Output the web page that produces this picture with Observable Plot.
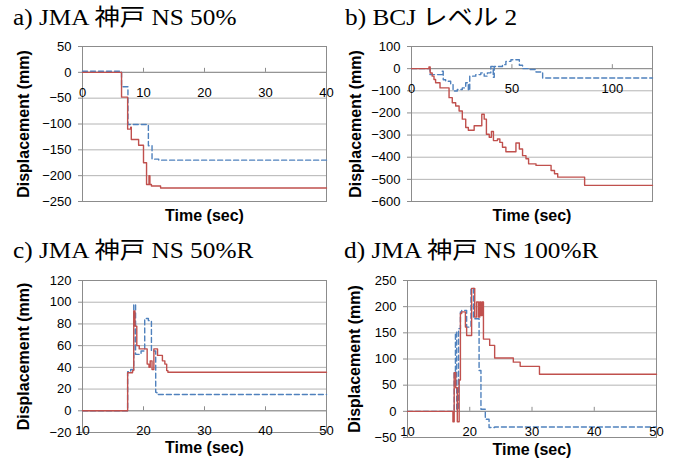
<!DOCTYPE html>
<html><head><meta charset="utf-8">
<script src="https://cdn.jsdelivr.net/npm/d3@7"></script>
<script src="https://cdn.jsdelivr.net/npm/@observablehq/plot@0.6"></script>
<style>
body{margin:0;background:#fff;}
#wrap{position:relative;width:677px;height:459px;overflow:hidden;background:#fff;}
.title{position:absolute;font-family:"Liberation Serif","Times New Roman","Noto Sans CJK JP",serif;font-size:23px;line-height:24px;white-space:nowrap;color:#000;transform:scaleX(1.1);transform-origin:0 50%;}
.panel{position:absolute;}
</style></head><body><div id="wrap"></div>
<script>
const titles = ["a) JMA 神戸 NS 50%", "b) BCJ レベル 2", "c) JMA 神戸 NS 50%R", "d) JMA 神戸 NS 100%R"];
const xLabel = "Time (sec)";
const yLabel = "Displacement (mm)";

// Panel a
const aXTicks = [0, 10, 20, 30, 40];
const aYTicks = [50, 0, -50, -100, -150, -200, -250];
const aRedT = [0, 6.4, 7.4, 7.9, 8.0, 9.2, 10.0, 10.5, 10.9, 11.05, 11.3, 12.8, 40];
const aRedV = [0, -48, -110, -106, -130, -141, -175, -217, -200, -217, -220, -224, -224];
const aBlueT = [0, 6.4, 7.45, 10.8, 11.4, 12.5, 40];
const aBlueV = [2, -28, -101, -142, -168, -170, -170];

// Panel b
const bXTicks = [0, 50, 100];
const bYTicks = [100, 0, -100, -200, -300, -400, -500, -600];
const bRedT = [0, 8.7, 9.3, 10.3, 11.2, 12, 14.2, 18.7, 20.3, 22, 23.7, 25.3, 27, 28.3, 31.2, 35, 36.2, 37.3, 38.7, 39.8, 40.8, 42.8, 44, 45.3, 47, 52, 53.7, 55.3, 57, 58.3, 62, 69.5, 71.2, 72.8, 86.2, 120];
const bRedV = [0, 8, -20, -34, -49, -64, -87, -131, -154, -169, -191, -228, -266, -278, -258, -206, -228, -296, -310, -284, -325, -318, -333, -355, -375, -336, -363, -393, -407, -430, -437, -460, -475, -490, -527, -527];
const bBlueT = [0, 9.2, 15.3, 15.8, 17, 19.5, 20.7, 22.8, 25.3, 27, 28.3, 29, 32, 34.5, 36.2, 37.8, 39.5, 40.7, 41.2, 45.3, 47, 49.5, 53.7, 55.3, 58.7, 62, 65.3, 120];
const bBlueV = [0, -27, -12, -50, -57, -72, -101, -94, -87, -64, -98, -34, -27, -19, -34, -19, 10, -39, 10, 18, 33, 40, 15, 0, -4, -15, -42, -42];

// Panel c
const cXTicks = [10, 20, 30, 40, 50];
const cYTicks = [120, 100, 80, 60, 40, 20, 0, -20];
const cRedT = [10, 17.4, 18.2, 18.4, 18.6, 18.9, 19.3, 20.6, 20.9, 21.1, 21.4, 21.7, 22.3, 23.1, 23.5, 23.8, 24, 50];
const cRedV = [0, 35, 37, 92, 78, 60, 57, 43, 40, 46, 38, 57, 51, 46, 43, 37, 35.5, 35.5];
const cBlueT = [10, 17.4, 17.9, 18.4, 18.7, 19.6, 20.2, 20.8, 21.3, 22, 22.2, 50];
const cBlueV = [0, 36, 38, 98, 52, 55, 85, 83, 55, 17, 15, 15];

// Panel d
const dXTicks = [10, 20, 30, 40, 50];
const dYTicks = [250, 200, 150, 100, 50, 0, -50];
const dRedT = [10, 17.3, 17.5, 17.75, 18.0, 18.3, 18.5, 18.7, 19.3, 19.5, 20.3, 20.8, 21.1, 21.4, 21.6, 21.8, 22.0, 22.2, 23.2, 24, 27, 28.1, 31.2, 50];
const dRedV = [0, -20, 74, 45, -20, 60, 187, 190, 161, 145, 235, 180, 209, 180, 209, 183, 209, 138, 126, 102, 94, 86, 71, 71];
const dBlueT = [10, 17.5, 17.7, 17.9, 18.2, 18.5, 18.7, 19.5, 20.2, 20.6, 21.5, 21.8, 22.5, 23.1, 24, 50];
const dBlueV = [0, 74, 151, 4, 158, 190, 193, 161, 235, 177, 78, 4, -15, -31, -30, -30];

const RED = "#C0504D", BLUE = "#4F81BD";

function panel(c) {
  const red = c.redT.map((t, i) => ({t, v: c.redV[i]}));
  const blue = c.blueT.map((t, i) => ({t, v: c.blueV[i]}));
  return Plot.plot({
    width: c.width, height: c.height,
    marginTop: c.mt, marginRight: c.mr, marginBottom: c.mb, marginLeft: c.ml,
    x: {domain: c.xDomain, axis: null},
    y: {domain: c.yDomain, axis: null},
    style: {fontFamily: "'Liberation Sans', Arial, sans-serif", fontSize: "13px", color: "#000", background: "transparent", overflow: "visible"},
    marks: [
      Plot.ruleY(c.yTicks, {stroke: "#b4b4b4"}),
      Plot.frame({stroke: "#8c8c8c"}),
      Plot.ruleY([0], {stroke: "#8c8c8c"}),
      Plot.axisY(c.yTicks, {tickSize: 4, tickPadding: 7, stroke: "#8c8c8c", fill: "#000", fontSize: 13, label: null}),
      Plot.ruleX(c.xTicks, {x: d => d, y1: 0, y2: 0, insetTop: -4, stroke: "#8c8c8c"}),
      Plot.line(blue, {x: "t", y: "v", curve: "step-after", stroke: BLUE, strokeWidth: 1.4, strokeDasharray: "5,3"}),
      Plot.line(red, {x: "t", y: "v", curve: "step-after", stroke: RED, strokeWidth: 1.4}),
      Plot.text(c.xTicks, {x: d => d, y: 0, text: d => String(d), dy: 20, fontSize: 13, fill: "#000"}),
      Plot.text([xLabel], {frameAnchor: "bottom", dy: c.xLabelDy, lineAnchor: "middle", textAnchor: "middle", text: d => d, fontWeight: "bold", fontSize: 16, fill: "#000"}),
      Plot.text([yLabel], {frameAnchor: "left", dx: c.yLabelDx, rotate: -90, textAnchor: "middle", lineAnchor: "middle", text: d => d, fontWeight: "bold", fontSize: 16, fill: "#000"})
    ]
  });
}

const panels = [
  {left: 0, top: 30, width: 338, height: 200, mt: 16, mr: 12, mb: 29, ml: 82, xDomain: [0, 40], yDomain: [-250, 50],
   xTicks: aXTicks, yTicks: aYTicks, redT: aRedT, redV: aRedV, blueT: aBlueT, blueV: aBlueV, xLabelDy: 14, yLabelDx: -59,
   title: titles[0], tl: 13, tt: 6},
  {left: 338, top: 30, width: 339, height: 200, mt: 16, mr: 25, mb: 29, ml: 73, xDomain: [0, 120], yDomain: [-600, 100],
   xTicks: bXTicks, yTicks: bYTicks, redT: bRedT, redV: bRedV, blueT: bBlueT, blueV: bBlueV, xLabelDy: 14, yLabelDx: -56,
   title: titles[1], tl: 345, tt: 6},
  {left: 0, top: 262, width: 338, height: 197, mt: 18, mr: 12, mb: 27, ml: 82, xDomain: [10, 50], yDomain: [-20, 120],
   xTicks: cXTicks, yTicks: cYTicks, redT: cRedT, redV: cRedV, blueT: cBlueT, blueV: cBlueV, xLabelDy: 15, yLabelDx: -59,
   title: titles[2], tl: 13, tt: 239},
  {left: 338, top: 262, width: 339, height: 197, mt: 18, mr: 21, mb: 22, ml: 69, xDomain: [10, 50], yDomain: [-50, 250],
   xTicks: dXTicks, yTicks: dYTicks, redT: dRedT, redV: dRedV, blueT: dBlueT, blueV: dBlueV, xLabelDy: 12, yLabelDx: -53,
   title: titles[3], tl: 344, tt: 239}
];

const wrap = document.getElementById("wrap");
for (const p of panels) {
  const t = document.createElement("div");
  t.className = "title";
  t.style.left = p.tl + "px";
  t.style.top = p.tt + "px";
  t.textContent = p.title;
  wrap.appendChild(t);
  const holder = document.createElement("div");
  holder.className = "panel";
  holder.style.left = p.left + "px";
  holder.style.top = p.top + "px";
  holder.appendChild(panel(p));
  wrap.appendChild(holder);
}
</script></body></html>
